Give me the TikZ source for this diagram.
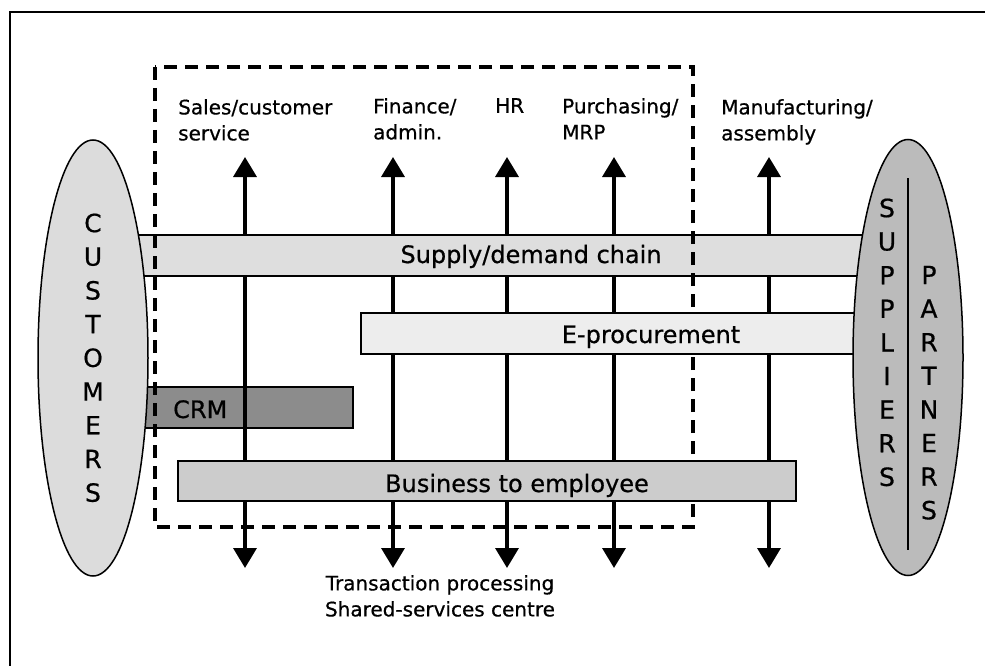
\documentclass[tikz,border=0pt]{standalone}
\usepackage{fontspec}
\setmainfont{DejaVu Sans}[FakeBold=0.6]
\usetikzlibrary{arrows.meta,shapes.geometric}
\definecolor{supplyfill}{HTML}{DEDEDE}
\definecolor{eprocfill}{HTML}{EDEDED}
\definecolor{crmfill}{HTML}{8C8C8C}
\definecolor{btoefill}{HTML}{CCCCCC}
\definecolor{custfill}{HTML}{DCDCDC}
\definecolor{suppfill}{HTML}{BBBBBB}

\begin{document}
\begin{tikzpicture}[x=1pt,y=-1pt,
		bar/.style={draw, line width=1.5pt, rectangle, inner sep=0pt, minimum height=41pt},
		func/.style={inner sep=0pt, anchor=north west, align=left, font=\fontsize{20}{26}\selectfont},
		barlabel/.style={inner sep=0pt, anchor=base, font=\fontsize{24}{28}\selectfont},
		letter/.style={inner sep=0pt, font=\fontsize{25}{30}\selectfont},
		party/.style={draw, ellipse, line width=1.5pt, inner sep=0pt, minimum width=110pt, minimum height=436pt},
		biarrow/.style={{Triangle[width=23pt,length=20pt]}-{Triangle[width=23pt,length=20pt]}, line width=3.5pt}]
		\useasboundingbox (0,0) rectangle (985,666);
		\draw[line width=1.5pt] (985,12) -- (10,12) -- (10,666);

		\node[bar, fill=crmfill, minimum width=233pt] at (236.5,407.5)(crm){};

		\foreach \x/\n in {245/sales,393/finance,507/hr,614/purchasing,769/manufacturing}{
			\coordinate (\n top) at (\x,157);
			\coordinate (\n bot) at (\x,568);
			\draw[biarrow] (\n top) -- (\n bot);
		}

		\node[bar, fill=supplyfill, minimum width=780pt] at (510,255.5)(supply){};
		\draw[line width=4.5pt, dash pattern=on 13pt off 8pt] (155,67) rectangle (693,527);
		\node[bar, fill=eprocfill, minimum width=539pt] at (630.5,333.5)(eproc){};
		\node[bar, fill=btoefill, minimum width=618pt, minimum height=40pt] at (487,481)(btoe){};

		\node[barlabel] at (531,263)(supply label){Supply/demand chain};
		\node[barlabel] at (651,343)(eproc label){E-procurement};
		\node[barlabel, anchor=base west] at (173,418)(crm label){CRM};
		\node[barlabel] at (517,492)(btoe label){Business to employee};

		\node[func] at (178,99)(sales){Sales/customer\\service};
		\node[func] at (373,98)(finance){Finance/\\admin.};
		\node[func] at (495,98)(hr){HR};
		\node[func] at (562,98)(purchasing){Purchasing/\\MRP};
		\node[func] at (721,99)(manufacturing){Manufacturing/\\assembly};
		\node[func, anchor=north, align=center] at (440,575)(tps){Transaction processing\\Shared-services centre};

		\node[party, fill=custfill] at (93,358)(customers){};
		\node[party, fill=suppfill] at (908,357.5)(suppliers){};
		\draw[line width=1.5pt] (908,178) -- (908,550);

		\foreach \l [count=\i from 0] in {C,U,S,T,O,M,E,R,S}
			\node[letter] at (93,223+33.7*\i)(cust\i){\l};
		\foreach \l [count=\i from 0] in {S,U,P,P,L,I,E,R,S}
			\node[letter] at (887,208+33.6*\i)(supp\i){\l};
		\foreach \l [count=\i from 0] in {P,A,R,T,N,E,R,S}
			\node[letter] at (929,275+33.6*\i)(part\i){\l};
	\end{tikzpicture}
\end{document}
